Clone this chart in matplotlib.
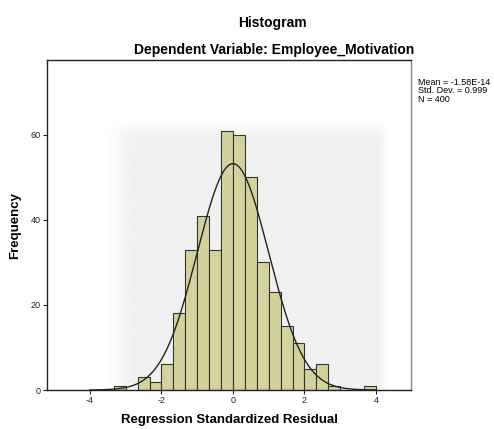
import numpy as np
import matplotlib
matplotlib.use("Agg")
import matplotlib.pyplot as plt

plt.rcParams['font.family'] = ['Liberation Sans', 'DejaVu Sans']
plt.rcParams['axes.unicode_minus'] = False

# --- Data ---
bin_left = [-10, -8, -7, -6, -5, -4, -3, -2, -1, 0, 1, 2, 3, 4, 5, 6, 7, 8, 11]  # in thirds
counts = [1, 3, 2, 6, 18, 33, 41, 33, 61, 60, 50, 30, 23, 15, 11, 5, 6, 1, 1]
bin_width = 1 / 3
mean_val = -1.58e-14
std_val = 0.999
n_obs = 400
x_ticks = [-4, -2, 0, 2, 4]
y_ticks = [0, 20, 40, 60]

fig = plt.figure(figsize=(4.94, 4.29), dpi=100)
ax = fig.add_axes([0.0951, 0.0909, 0.737, 0.769])

# soft grey panel behind the bars
gx, gy = np.meshgrid(np.linspace(0, 1, 300), np.linspace(0, 1, 300))
fade_l = np.clip(gx / 0.10, 0, 1)
fade_r = np.clip((1 - gx) / 0.03, 0, 1)
fade_t = np.clip(gy / 0.08, 0, 1)
shade = 1 - 0.055 * fade_l * fade_r * fade_t
ax.imshow(shade, cmap="gray", vmin=0, vmax=1, extent=[-3.6, 4.33, 0, 64],
          origin="upper", aspect="auto", zorder=0, interpolation="bilinear")

lefts = np.array(bin_left) * bin_width
ax.bar(lefts, counts, width=bin_width, align="edge", color="#d4d29c",
       edgecolor="#333333", linewidth=0.8, zorder=2)

xs = np.linspace(-4, 4, 400)
curve = n_obs * bin_width / (std_val * np.sqrt(2 * np.pi)) * np.exp(-0.5 * ((xs - mean_val) / std_val) ** 2)
ax.plot(xs, curve, color="#222222", linewidth=1.0, zorder=3)

ax.set_xlim(-5.2, 4.98)
ax.set_ylim(0, 77.6)
ax.set_xticks(x_ticks)
ax.set_yticks(y_ticks)
ax.tick_params(labelsize=6.5, length=3, width=0.8, pad=1.5, colors="#222222")
for side in ["left", "top", "bottom"]:
    ax.spines[side].set_color("#222222")
    ax.spines[side].set_linewidth(1.0)
ax.spines["right"].set_color("#888888")
ax.spines["right"].set_linewidth(1.0)

ax.set_ylabel("Frequency", fontsize=9.5, fontweight="bold", labelpad=7)
ax.set_xlabel("Regression Standardized Residual", fontsize=9.5, fontweight="bold", labelpad=6)

fig.text(0.551, 0.947, "Histogram", fontsize=10, fontweight="bold", ha="center", va="center")
fig.text(0.555, 0.884, "Dependent Variable: Employee_Motivation", fontsize=10, fontweight="bold",
         ha="center", va="center")
fig.text(0.846, 0.788, "Mean = -1.58E-14\nStd. Dev. = 0.999\nN = 400", fontsize=6.5,
         ha="left", va="center", linespacing=0.88)

fig.savefig("out.png", dpi=100)
